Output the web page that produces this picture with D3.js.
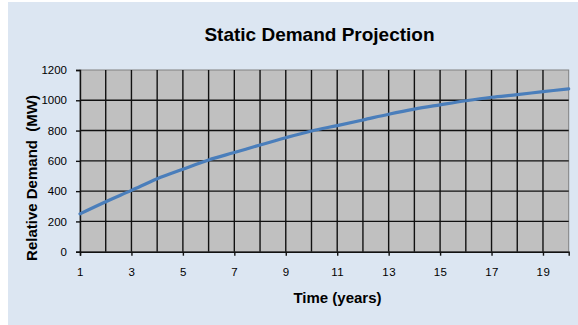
<!DOCTYPE html>
<html>
<head>
<meta charset="utf-8">
<script src="https://cdn.jsdelivr.net/npm/d3@7"></script>
<style>
  html, body { margin: 0; padding: 0; background: #ffffff; }
  svg { display: block; }
  text { font-family: "Liberation Sans", Arial, sans-serif; fill: #000; }
</style>
</head>
<body>
<svg id="chart" width="578" height="325"></svg>
<script>
// Projected demand per year
const years = [1, 2, 3, 4, 5, 6, 7, 8, 9, 10, 11, 12, 13, 14, 15, 16, 17, 18, 19, 20];
const demand = [250, 330, 405, 482, 545, 606, 655, 705, 753, 797, 833, 870, 908, 942, 970, 997, 1020, 1037, 1057, 1075];
const xTickLabels = [1, 3, 5, 7, 9, 11, 13, 15, 17, 19];
const yTickLabels = [0, 200, 400, 600, 800, 1000, 1200];
const chartTitle = "Static Demand Projection";
const xTitle = "Time (years)";
const yTitle = "Relative Demand  (MW)";

const svg = d3.select("#chart");

// chart background
svg.append("rect")
  .attr("x", 8).attr("y", 2)
  .attr("width", 570).attr("height", 323)
  .attr("fill", "#dce6f2");

const plot = { left: 80, top: 70, right: 568.7, bottom: 251.7 };

const x = d3.scaleLinear().domain([1, 20]).range([plot.left, plot.right]);
const y = d3.scaleLinear().domain([0, 1200]).range([plot.bottom, plot.top]);

// plot area
svg.append("rect")
  .attr("x", plot.left).attr("y", plot.top)
  .attr("width", plot.right - plot.left).attr("height", plot.bottom - plot.top)
  .attr("fill", "#c0c0c0")
  .attr("stroke", "#808080").attr("stroke-width", 1);

// gridlines
const grid = svg.append("g");
grid.selectAll("line.v")
  .data(years.filter(d => d > 1 && d < 20))
  .join("line")
  .attr("x1", d => x(d)).attr("x2", d => x(d))
  .attr("y1", plot.top).attr("y2", plot.bottom)
  .attr("stroke", "#111").attr("stroke-width", 1.4);
grid.selectAll("line.h")
  .data(yTickLabels.filter(d => d > 0 && d < 1200))
  .join("line")
  .attr("x1", plot.left).attr("x2", plot.right)
  .attr("y1", d => y(d)).attr("y2", d => y(d))
  .attr("stroke", "#111").attr("stroke-width", 1.4);

// axes
const xAxis = svg.append("g")
  .attr("transform", `translate(0,${plot.bottom})`)
  .call(d3.axisBottom(x).tickValues(xTickLabels).tickSize(4).tickPadding(12).tickFormat(d3.format("d")));
const yAxis = svg.append("g")
  .attr("transform", `translate(${plot.left},0)`)
  .call(d3.axisLeft(y).tickValues(yTickLabels).tickSize(4).tickPadding(9).tickFormat(d3.format("d")));

[xAxis, yAxis].forEach(a => {
  a.select(".domain").attr("stroke", "#111").attr("stroke-width", 1.4);
  a.selectAll(".tick line").attr("stroke", "#111").attr("stroke-width", 1.4);
  a.selectAll(".tick text")
    .style("font-family", "'Liberation Sans', Arial, sans-serif")
    .style("font-size", "11.5px")
    .attr("fill", "#000");
});
xAxis.selectAll(".tick text").style("letter-spacing", "0.5px");

// demand curve
const line = d3.line()
  .x((d, i) => x(years[i]))
  .y(d => y(d))
  .curve(d3.curveCatmullRom.alpha(0.5));

svg.append("path")
  .datum(demand)
  .attr("d", line)
  .attr("fill", "none")
  .attr("stroke", "#4a7ebb")
  .attr("stroke-width", 3.2)
  .attr("stroke-linecap", "round");

// titles
svg.append("text")
  .attr("x", 319.5).attr("y", 40.5)
  .attr("text-anchor", "middle")
  .style("font-size", "19px").style("font-weight", "bold")
  .text(chartTitle);

svg.append("text")
  .attr("x", 337.5).attr("y", 303)
  .attr("text-anchor", "middle")
  .style("font-size", "15px").style("font-weight", "bold")
  .text(xTitle);

svg.append("text")
  .attr("transform", "translate(37,178) rotate(-90)")
  .attr("text-anchor", "middle")
  .style("font-size", "15px").style("font-weight", "bold")
  .style("white-space", "pre")
  .text(yTitle);
</script>
</body>
</html>
